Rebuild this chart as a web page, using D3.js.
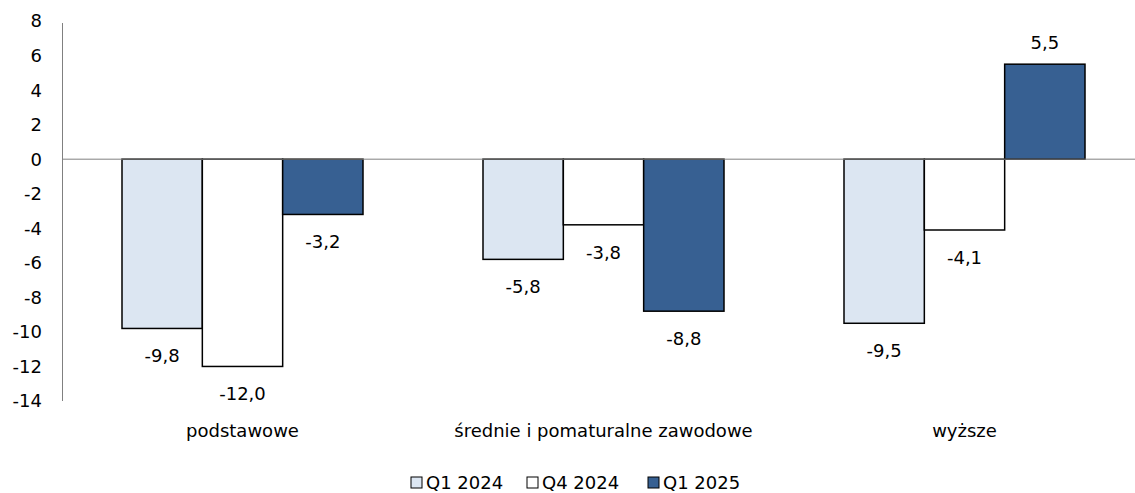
<!DOCTYPE html>
<html lang="pl">
<head>
<meta charset="UTF-8">
<title>Chart</title>
<script src="https://d3js.org/d3.v7.min.js"></script>
<style>
	body { margin: 0; background: #fff; }
	text { font-family: "DejaVu Sans", Verdana, sans-serif; font-size: 18px; fill: #000; }
</style>
</head>
<body>
<svg id="chart" width="1135" height="493"></svg>
<script>
	// data
	const categories = ["podstawowe", "średnie i pomaturalne zawodowe", "wyższe"];
	const seriesNames = ["Q1 2024", "Q4 2024", "Q1 2025"];
	const q1_2024 = [-9.8, -5.8, -9.5];
	const q4_2024 = [-12.0, -3.8, -4.1];
	const q1_2025 = [-3.2, -8.8, 5.5];
	const yTicks = [8, 6, 4, 2, 0, -2, -4, -6, -8, -10, -12, -14];

	const seriesValues = [q1_2024, q4_2024, q1_2025];
	const colors = ["#dce6f2", "#ffffff", "#376092"];

	const svg = d3.select("#chart");
	const axisX = 62;

	const y = d3.scaleLinear().domain([-14, 8]).range([401, 21]);
	const x0 = d3.scaleBand().domain(categories).range([axisX, 1145]).padding(0);
	const x1 = d3.scaleBand().domain(seriesNames).range([60, x0.bandwidth() - 60]).padding(0);

	const fmt = v => v.toFixed(1).replace(".", ",");

	// y axis
	svg.append("line")
		.attr("x1", axisX + 0.5).attr("x2", axisX + 0.5)
		.attr("y1", y(8) + 2).attr("y2", y(-14))
		.attr("stroke", "#808080").attr("stroke-width", 1);

	svg.selectAll(".ytick")
		.data(yTicks)
		.enter().append("text")
		.attr("class", "ytick")
		.attr("x", 42)
		.attr("y", d => y(d))
		.attr("dy", "0.36em")
		.attr("text-anchor", "end")
		.text(d => d);

	// bars
	const groups = svg.selectAll(".grp")
		.data(categories)
		.enter().append("g")
		.attr("class", "grp")
		.attr("transform", d => "translate(" + x0(d) + ",0)");

	groups.each(function(cat, ci) {
		const g = d3.select(this);
		const rows = seriesNames.map((s, si) => ({ s, si, v: seriesValues[si][ci] }));

		g.selectAll("rect")
			.data(rows)
			.enter().append("rect")
			.attr("x", d => x1(d.s))
			.attr("y", d => y(Math.max(0, d.v)))
			.attr("width", x1.bandwidth())
			.attr("height", d => Math.abs(y(d.v) - y(0)))
			.attr("fill", d => colors[d.si])
			.attr("stroke", "#000")
			.attr("stroke-width", 1.5);

		g.selectAll(".lbl")
			.data(rows)
			.enter().append("text")
			.attr("class", "lbl")
			.attr("x", d => x1(d.s) + x1.bandwidth() / 2)
			.attr("y", d => d.v < 0 ? y(d.v) + 34 : y(d.v) - 15)
			.attr("text-anchor", "middle")
			.text(d => fmt(d.v));
	});

	// zero line
	svg.append("line")
		.attr("x1", axisX).attr("x2", 1135)
		.attr("y1", y(0)).attr("y2", y(0))
		.attr("stroke", "#808080").attr("stroke-width", 1);

	// category labels
	svg.selectAll(".cat")
		.data(categories)
		.enter().append("text")
		.attr("class", "cat")
		.attr("x", d => x0(d) + x0.bandwidth() / 2)
		.attr("y", 437)
		.attr("text-anchor", "middle")
		.text(d => d);

	// legend
	const legendX = [411, 527, 648];
	const legend = svg.selectAll(".leg")
		.data(seriesNames)
		.enter().append("g")
		.attr("class", "leg")
		.attr("transform", (d, i) => "translate(" + legendX[i] + ",477)");

	legend.append("rect")
		.attr("width", 11).attr("height", 11)
		.attr("fill", (d, i) => colors[i])
		.attr("stroke", "#000").attr("stroke-width", 1);

	legend.append("text")
		.attr("x", 15)
		.attr("y", 12)
		.text(d => d);
</script>
</body>
</html>
